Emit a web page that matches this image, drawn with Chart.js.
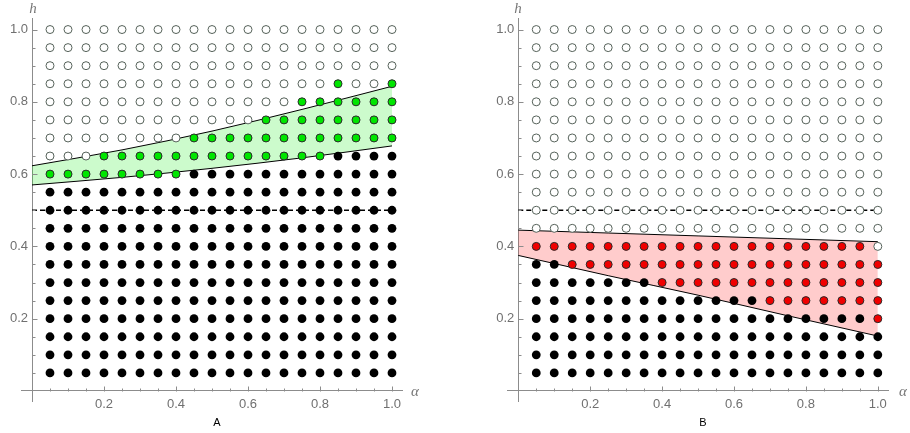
<!DOCTYPE html>
<html>
<head>
<meta charset="utf-8">
<script src="https://cdn.jsdelivr.net/npm/chart.js@4.4.1/dist/chart.umd.min.js"></script>
<style>
  body { margin: 0; background: #fff; }
  #wrap { position: relative; width: 910px; height: 433px; overflow: hidden; }
  .panel { position: absolute; top: 0; width: 455px; height: 433px; }
  .axis-name, .panel-name { position: absolute; transform: translate(-50%, -50%); white-space: nowrap; }
  .axis-name { font: italic 15px 'Liberation Serif', serif; color: #777; }
  .panel-name { font: 11px 'Liberation Sans', Arial, sans-serif; color: #000; }
</style>
</head>
<body>
<div id="wrap">
  <div class="panel" style="left:0"><canvas id="chartA" width="455" height="433"></canvas></div>
  <div class="panel" style="left:455px"><canvas id="chartB" width="455" height="433"></canvas></div>
  <span class="axis-name" style="left:33px;top:8px">h</span>
  <span class="axis-name" style="left:415px;top:391px">α</span>
  <span class="panel-name" style="left:217px;top:422px">A</span>
  <span class="axis-name" style="left:518px;top:8px">h</span>
  <span class="axis-name" style="left:903px;top:391px">α</span>
  <span class="panel-name" style="left:703px;top:422px">B</span>
</div>
<script>
// grid columns (alpha) and rows (h, top row first)
const alphaValues = [0.05, 0.1, 0.15, 0.2, 0.25, 0.3, 0.35, 0.4, 0.45, 0.5,
                     0.55, 0.6, 0.65, 0.7, 0.75, 0.8, 0.85, 0.9, 0.95, 1.0];
const hValues = [1.0, 0.95, 0.9, 0.85, 0.8, 0.75, 0.7, 0.65, 0.6, 0.55,
                 0.5, 0.45, 0.4, 0.35, 0.3, 0.25, 0.2, 0.15, 0.1, 0.05];

// W = open circle, B = black, G = green, R = red
const gridA = [
  'WWWWWWWWWWWWWWWWWWWW', // 1.00
  'WWWWWWWWWWWWWWWWWWWW', // 0.95
  'WWWWWWWWWWWWWWWWWWWW', // 0.90
  'WWWWWWWWWWWWWWWWGWWG', // 0.85
  'WWWWWWWWWWWWWWGGGGGG', // 0.80
  'WWWWWWWWWWWWGGGGGGGG', // 0.75
  'WWWWWWWWGGGGGGGGGGGG', // 0.70
  'WWWGGGGGGGGGGGGGBBBB', // 0.65
  'GGGGGGGGBBBBBBBBBBBB', // 0.60
  'BBBBBBBBBBBBBBBBBBBB', // 0.55
  'BBBBBBBBBBBBBBBBBBBB', // 0.50
  'BBBBBBBBBBBBBBBBBBBB', // 0.45
  'BBBBBBBBBBBBBBBBBBBB', // 0.40
  'BBBBBBBBBBBBBBBBBBBB', // 0.35
  'BBBBBBBBBBBBBBBBBBBB', // 0.30
  'BBBBBBBBBBBBBBBBBBBB', // 0.25
  'BBBBBBBBBBBBBBBBBBBB', // 0.20
  'BBBBBBBBBBBBBBBBBBBB', // 0.15
  'BBBBBBBBBBBBBBBBBBBB', // 0.10
  'BBBBBBBBBBBBBBBBBBBB'  // 0.05
];
const gridB = [
  'WWWWWWWWWWWWWWWWWWWW', // 1.00
  'WWWWWWWWWWWWWWWWWWWW', // 0.95
  'WWWWWWWWWWWWWWWWWWWW', // 0.90
  'WWWWWWWWWWWWWWWWWWWW', // 0.85
  'WWWWWWWWWWWWWWWWWWWW', // 0.80
  'WWWWWWWWWWWWWWWWWWWW', // 0.75
  'WWWWWWWWWWWWWWWWWWWW', // 0.70
  'WWWWWWWWWWWWWWWWWWWW', // 0.65
  'WWWWWWWWWWWWWWWWWWWW', // 0.60
  'WWWWWWWWWWWWWWWWWWWW', // 0.55
  'WWWWWWWWWWWWWWWWWWWW', // 0.50
  'WWWWWWWWWWWWWWWWWWWW', // 0.45
  'RRRRRRRRRRRRRRRRRRRW', // 0.40
  'BBRRRRRRRRRRRRRRRRRR', // 0.35
  'BBBBBBBRRRRRRRRRRRRR', // 0.30
  'BBBBBBBBBBBBBRRRRRRR', // 0.25
  'BBBBBBBBBBBBBBBBBBBR', // 0.20
  'BBBBBBBBBBBBBBBBBBBB', // 0.15
  'BBBBBBBBBBBBBBBBBBBB', // 0.10
  'BBBBBBBBBBBBBBBBBBBB'  // 0.05
];

// boundary curves of the shaded bands
const curveAlpha = [0, 0.25, 0.5, 0.75, 1.0];
const upperA = [0.623, 0.667, 0.719, 0.779, 0.843];
const lowerA = [0.570, 0.591, 0.616, 0.645, 0.678];
const upperB = [0.445, 0.437, 0.429, 0.421, 0.413];
const lowerB = [0.375, 0.319, 0.265, 0.208, 0.152];
const dashedLevel = 0.5;

const tickLabels = [0.2, 0.4, 0.6, 0.8, 1.0];

const axisColor = '#8c8c8c';
const labelColor = '#707070';

function cells(grid, code) {
  const pts = [];
  grid.forEach((row, r) => {
    for (let c = 0; c < row.length; c++) {
      if (row[c] === code) pts.push({x: alphaValues[c], y: hValues[r]});
    }
  });
  return pts;
}

function curve(vals) {
  return curveAlpha.map((a, i) => ({x: a, y: vals[i]}));
}

// Mathematica-style inward tick marks at every grid step
const tickMarks = {
  id: 'tickMarks',
  afterDraw(chart) {
    const {ctx, scales: {x, y}} = chart;
    const x0 = Math.round(x.getPixelForValue(0)) + 0.5;
    const y0 = Math.round(y.getPixelForValue(0)) + 0.5;
    const isMajor = v => Math.abs(v * 5 - Math.round(v * 5)) < 1e-6;
    ctx.save();
    ctx.strokeStyle = axisColor;
    ctx.lineWidth = 1;
    ctx.beginPath();
    alphaValues.forEach(v => {
      const px = Math.round(x.getPixelForValue(v)) + 0.5;
      ctx.moveTo(px, y0);
      ctx.lineTo(px, y0 - (isMajor(v) ? 5 : 3));
    });
    hValues.forEach(v => {
      const py = Math.round(y.getPixelForValue(v)) + 0.5;
      ctx.moveTo(x0, py);
      ctx.lineTo(x0 + (isMajor(v) ? 5 : 3), py);
    });
    ctx.stroke();
    ctx.restore();
  }
};

const tickFont = {family: "'Liberation Sans', Arial, sans-serif", size: 13};

function axisOpts(pos, pad, showLabels, showLine) {
  return {
    type: 'linear',
    min: -0.03,
    max: 1.03,
    position: pos,
    grid: {display: false, drawTicks: false},
    border: {display: showLine, color: axisColor, width: 1},
    afterBuildTicks: s => { s.ticks = tickLabels.map(v => ({value: v})); },
    ticks: {
      display: showLabels,
      autoSkip: false,
      maxRotation: 0,
      padding: pad,
      color: labelColor,
      font: tickFont,
      callback: v => Number(v).toFixed(1)
    }
  };
}

function makeChart(id, grid, code, accent, shade, upper, lower, padding) {
  return new Chart(document.getElementById(id), {
    type: 'scatter',
    data: {
      datasets: [
        {label: 'open', data: cells(grid, 'W'), pointRadius: 4, backgroundColor: '#fff', borderColor: '#56625a', borderWidth: 1},
        {label: 'band', data: cells(grid, code), pointRadius: 4, backgroundColor: accent, borderColor: '#2a2a2a', borderWidth: 1},
        {label: 'black', data: cells(grid, 'B'), pointRadius: 4.4, backgroundColor: '#000', borderColor: '#000', borderWidth: 0},
        {type: 'line', label: 'upper', data: curve(upper), borderColor: '#000', borderWidth: 1, pointRadius: 0,
         cubicInterpolationMode: 'monotone', fill: false},
        {type: 'line', label: 'lower', data: curve(lower), borderColor: '#000', borderWidth: 1, pointRadius: 0,
         cubicInterpolationMode: 'monotone', fill: '-1', backgroundColor: shade},
        {type: 'line', label: 'dashed', data: [{x: 0, y: dashedLevel}, {x: 1, y: dashedLevel}],
         borderColor: '#000', borderWidth: 1.5, borderDash: [5, 3], pointRadius: 0, fill: false}
      ]
    },
    options: {
      responsive: false,
      animation: false,
      layout: {padding},
      plugins: {legend: {display: false}, tooltip: {enabled: false}},
      scales: {
        x: axisOpts({y: 0}, 6, true, true),
        y: axisOpts({x: 0}, 0, false, true),
        // label-only copy of the h axis, set a few pixels left of the axis line
        yLabels: axisOpts({x: -0.011}, 0, true, false)
      }
    },
    plugins: [tickMarks]
  });
}

makeChart('chartA', gridA, 'G', '#00e600', 'rgba(0, 235, 0, 0.2)', upperA, lowerA,
          {left: 21.2, right: 52.2, top: 18.7, bottom: 31.2});
makeChart('chartB', gridB, 'R', '#f00000', 'rgba(255, 0, 0, 0.2)', upperB, lowerB,
          {left: 52.5, right: 21.4, top: 18.7, bottom: 31.2});
</script>
</body>
</html>
